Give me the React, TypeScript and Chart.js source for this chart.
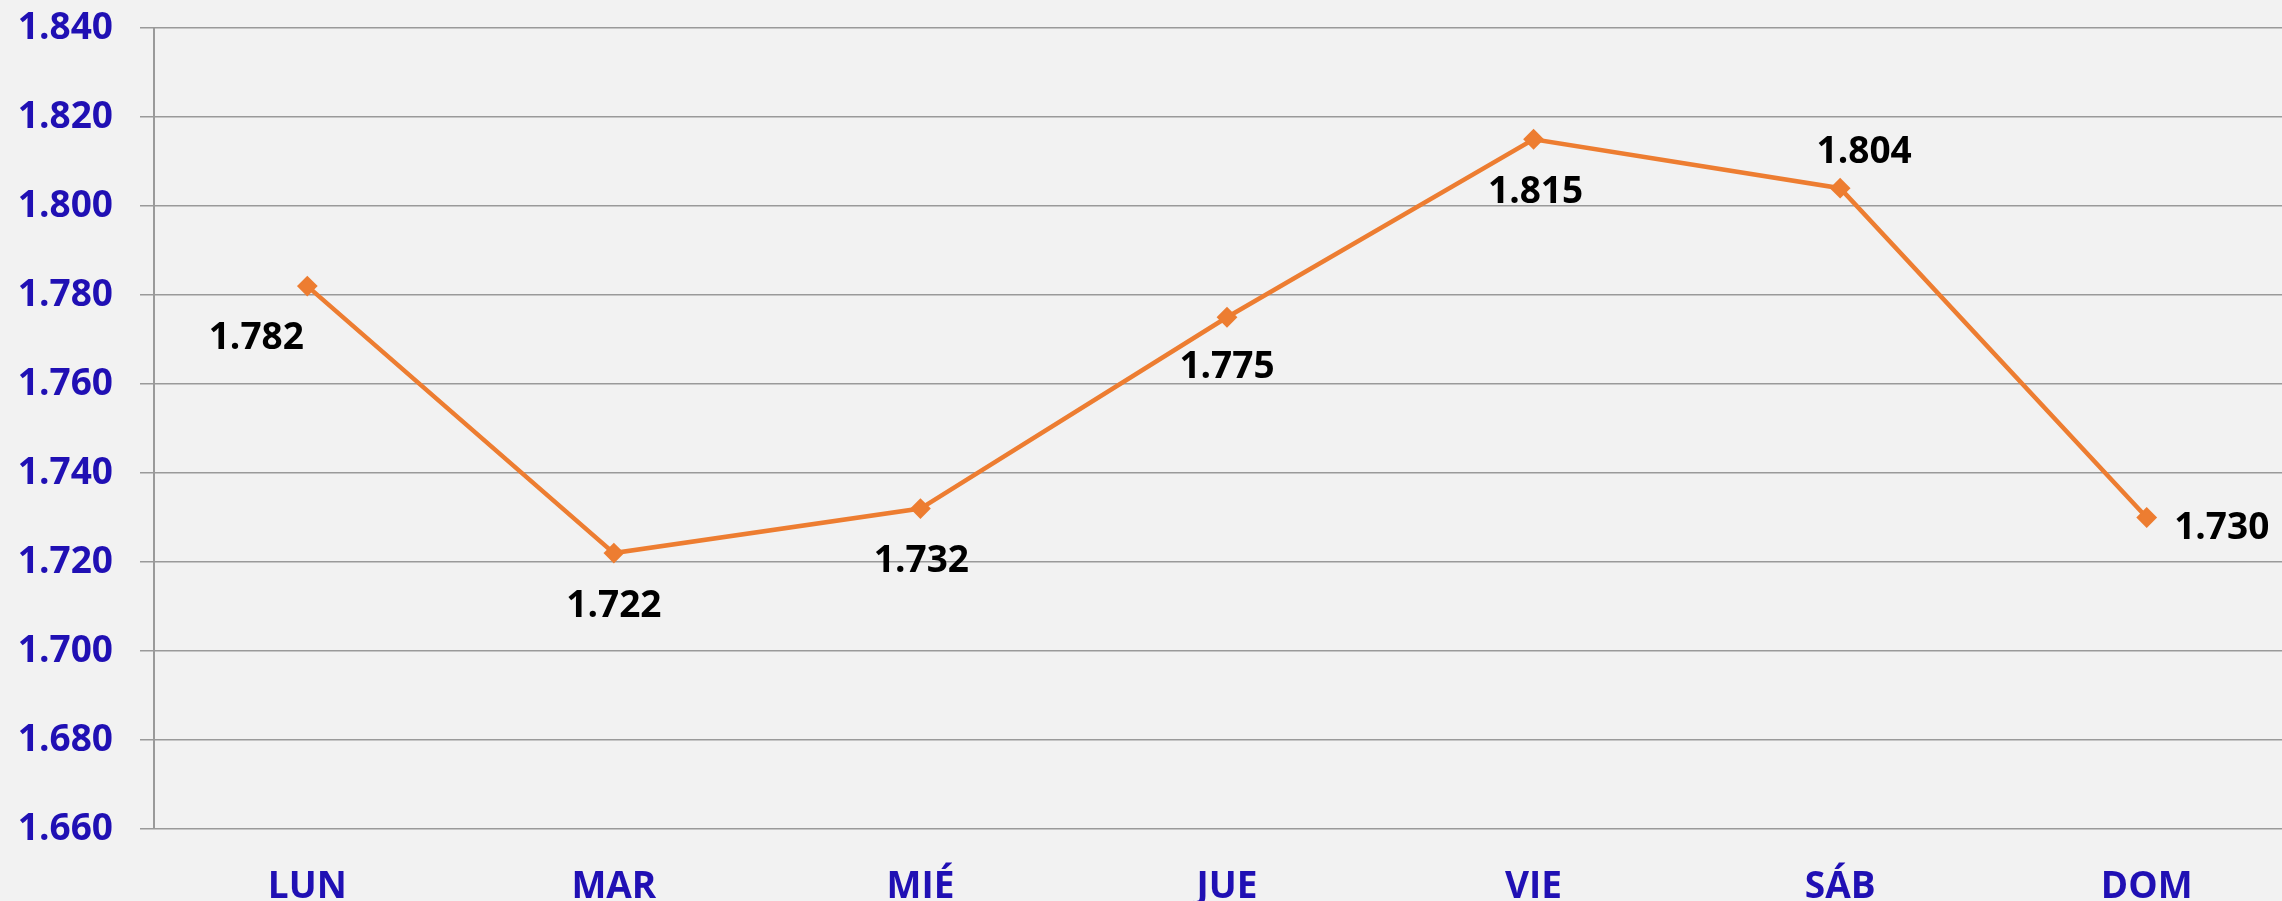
import React, { useEffect, useRef } from "react";
import { Chart, registerables } from "chart.js";

Chart.register(...registerables);

const categories = ["LUN", "MAR", "MIÉ", "JUE", "VIE", "SÁB", "DOM"];
const values = [1782, 1722, 1732, 1775, 1815, 1804, 1730];
const yTickValues = [1660, 1680, 1700, 1720, 1740, 1760, 1780, 1800, 1820, 1840];

// label placement (style): offset of label centre from point, in px
const labelOffsets = [
  { dx: -51, dy: 50 },
  { dx: 0, dy: 51 },
  { dx: 1, dy: 50 },
  { dx: 0, dy: 48 },
  { dx: 2, dy: 51 },
  { dx: 24, dy: -38 },
  { dx: 75, dy: 8 },
];

const fmt = (v: number) => {
  const s = Math.round(v).toString();
  return s.length > 3 ? s.slice(0, s.length - 3) + "." + s.slice(s.length - 3) : s;
};

const FONT = "'Open Sans', sans-serif";
const BLUE = "#2010B4";
const ORANGE = "#ED7D31";
const GRID = "#9A9A9A";

const dataLabelPlugin = {
  id: "dataLabels",
  afterDatasetsDraw(chart: any) {
    const ctx = chart.ctx;
    const meta = chart.getDatasetMeta(0);
    ctx.save();
    ctx.font = `bold 37px ${FONT}`;
    ctx.fillStyle = "#000000";
    ctx.textAlign = "center";
    ctx.textBaseline = "alphabetic";
    meta.data.forEach((el: any, i: number) => {
      const o = labelOffsets[i];
      ctx.fillText(fmt(values[i]), el.x + o.dx, el.y + o.dy + 13);
    });
    ctx.restore();
  },
};

export default function App() {
  const ref = useRef<HTMLCanvasElement | null>(null);
  useEffect(() => {
    if (!ref.current) return;
    const chart = new Chart(ref.current, {
      type: "line",
      data: {
        labels: categories,
        datasets: [
          {
            data: values,
            borderColor: ORANGE,
            backgroundColor: ORANGE,
            borderWidth: 4.5,
            pointStyle: "rectRot",
            pointRadius: 9,
            pointBorderWidth: 2,
            pointBackgroundColor: ORANGE,
            pointBorderColor: ORANGE,
            tension: 0,
            fill: false,
          },
        ],
      },
      options: {
        responsive: true,
        maintainAspectRatio: false,
        animation: false,
        layout: { padding: { top: 28, left: 0, right: 0, bottom: 0 } },
        plugins: {
          legend: { display: false },
          tooltip: { enabled: false },
        },
        scales: {
          x: {
            type: "category",
            offset: true,
            grid: { display: false, drawTicks: false },
            border: { display: false },
            ticks: {
              color: BLUE,
              font: { family: FONT, size: 37, weight: "bold" },
              padding: 36,
              maxRotation: 0,
              autoSkip: false,
            },
            afterFit: (s: any) => {
              s.height = 72;
              s.paddingLeft = 0;
              s.paddingRight = 0;
            },
          },
          y: {
            min: 1660,
            max: 1840,
            afterBuildTicks: (s: any) => {
              s.ticks = yTickValues.map((v) => ({ value: v }));
            },
            grid: {
              color: GRID,
              lineWidth: 1.5,
              tickLength: 14,
              drawTicks: true,
            },
            border: { display: true, color: GRID, width: 2 },
            ticks: {
              color: BLUE,
              font: { family: FONT, size: 37, weight: "bold" },
              padding: 27,
              callback: (v: any) => fmt(Number(v)),
            },
            afterFit: (s: any) => {
              s.width = 154;
              s.paddingTop = 0;
              s.paddingBottom = 0;
            },
          },
        },
      },
      plugins: [dataLabelPlugin],
    });
    return () => chart.destroy();
  }, []);

  return (
    <div
      style={{
        position: "fixed",
        left: 0,
        top: 0,
        width: 2282,
        height: 901,
        overflow: "hidden",
        background: "#F2F2F2",
      }}
    >
      <div style={{ position: "relative", width: 2311, height: 901 }}>
        <canvas ref={ref} />
      </div>
    </div>
  );
}
